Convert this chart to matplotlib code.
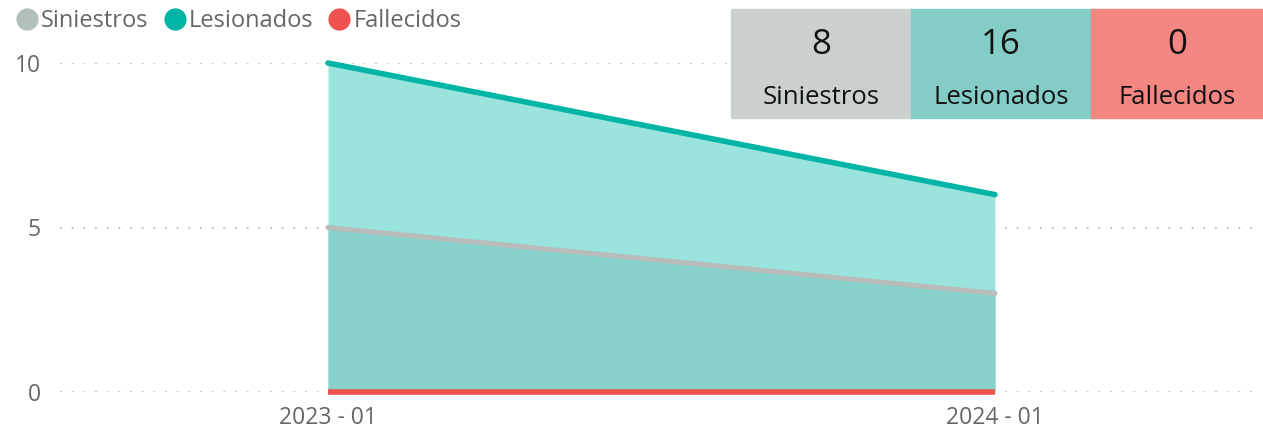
import matplotlib
matplotlib.use("Agg")
import matplotlib.pyplot as plt
from matplotlib.lines import Line2D
from matplotlib.patches import Rectangle

periods = ["2023 - 01", "2024 - 01"]
siniestros = [5, 3]
lesionados = [10, 6]
fallecidos = [0, 0]
series_names = ["Siniestros", "Lesionados", "Fallecidos"]
kpi_values = ["8", "16", "0"]
y_ticks = [0, 5, 10]

c_sin_line = "#b8bcba"
c_sin_leg = "#b3bfbb"
c_les = "#00b5a5"
c_fal = "#ef5350"
c_les_fill = "#9be3dd"
c_sin_fill = "#88d1ca"
kpi_colors = ["#cbd0ce", "#84ccc6", "#f48682"]
txt = "#666666"

plt.rcParams['font.family'] = ['Open Sans', 'DejaVu Sans']

W, H = 1263, 429
fig = plt.figure(figsize=(W / 100, H / 100), dpi=100)
ax = fig.add_axes([60 / W, (H - 392) / H, (1253 - 60) / W, (392 - 63) / H])

x = list(range(len(periods)))
ax.fill_between(x, 0, lesionados, color=c_les_fill, lw=0)
ax.fill_between(x, 0, siniestros, color=c_sin_fill, lw=0)
ax.plot(x, lesionados, color=c_les, lw=4, solid_capstyle='round', clip_on=False, zorder=4)
ax.plot(x, siniestros, color=c_sin_line, lw=3.6, solid_capstyle='round', clip_on=False, zorder=4)
ax.plot(x, fallecidos, color=c_fal, lw=4, solid_capstyle='butt', clip_on=False, zorder=5)

ax.set_xlim(-(328 - 60) / 667, 1 + (1253 - 995) / 667)
ax.set_ylim(0, 10)
ax.set_xticks(x)
ax.set_xticklabels(periods)
ax.set_yticks(y_ticks)
ax.tick_params(length=0, labelsize=16.5, labelcolor=txt)
ax.tick_params(axis='x', pad=10)
ax.tick_params(axis='y', pad=14)
for s in ax.spines.values():
    s.set_visible(False)
ax.yaxis.grid(True, linestyle=(0, (1, 5)), color="#c4c4c4", lw=1.4)
ax.set_axisbelow(True)

handles = [Line2D([], [], marker='o', ls='', ms=15, color=c)
           for c in [c_sin_leg, c_les, c_fal]]
fig.legend(handles, series_names, loc='upper left', bbox_to_anchor=(1 / W, 1 + 3 / H),
           ncol=3, frameon=False, fontsize=17, labelcolor=txt, handletextpad=0.0,
           columnspacing=0.5, borderpad=0, handlelength=1.2)

# KPI boxes
boxes = [(731, 911), (911, 1091), (1091, 1263)]
for (x0, x1), col, val, name in zip(boxes, kpi_colors, kpi_values, series_names):
    fig.patches.append(Rectangle((x0 / W, 1 - 118 / H), (x1 - x0) / W, (118 - 9) / H,
                                 transform=fig.transFigure, color=col, zorder=10))
    cx = (x0 + x1) / 2 / W
    fig.text(cx, 1 - 45 / H, val, ha='center', va='center', fontsize=25, color="#111111", zorder=11)
    fig.text(cx, 1 - 97 / H, name, ha='center', va='center', fontsize=18.5, color="#111111", zorder=11)

fig.savefig("out.png", dpi=100)
